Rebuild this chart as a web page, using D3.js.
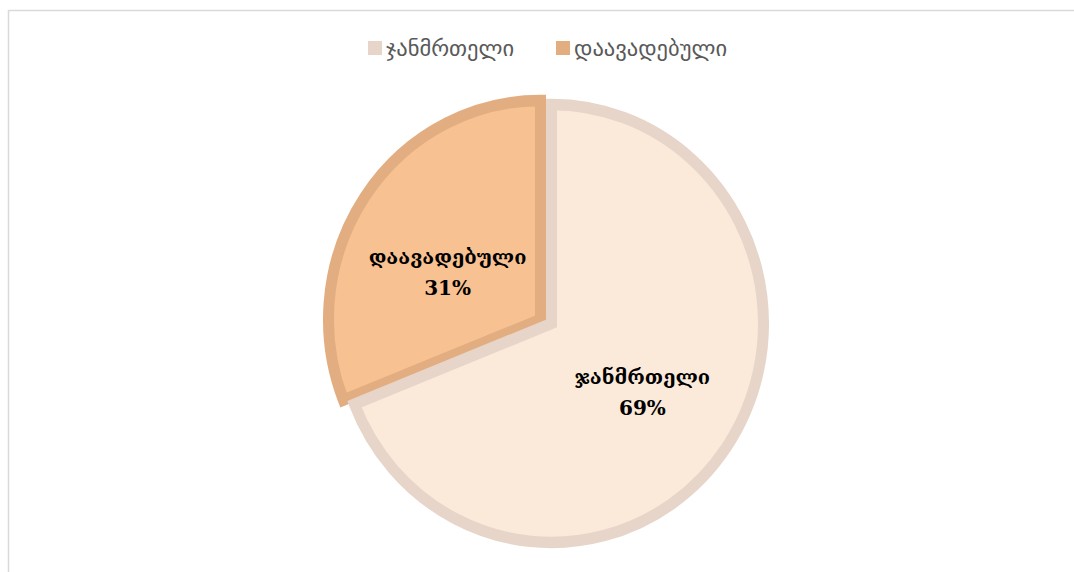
<!DOCTYPE html>
<html>
<head>
<meta charset="utf-8">
<script src="https://cdn.jsdelivr.net/npm/d3@7/dist/d3.min.js"></script>
<style>
  html, body { margin: 0; padding: 0; background: #ffffff; }
  svg { display: block; }
</style>
</head>
<body>
<svg id="chart" width="1074" height="572"></svg>
<script>
// Share of healthy vs. diseased
const categories = ["ჯანმრთელი", "დაავადებული"];
const shares = [69, 31];
const fillColors = ["#FBE9DA", "#F8C192"];
const strokeColors = ["#E6D5C8", "#E2AE81"];
const legendColors = ["#E6D5C8", "#E2AE80"];

const svg = d3.select("#chart");

// chart frame (partially visible)
svg.append("rect")
  .attr("x", 8.5).attr("y", 10.5)
  .attr("width", 1100).attr("height", 600)
  .attr("fill", "none")
  .attr("stroke", "#D9D9D9")
  .attr("stroke-width", 1.5);

// pie geometry
const cx = 551.5, cy = 323.5;
const rx = 212, ry = 219;
const strokeW = 11;

const pie = d3.pie().sort(null).value(d => d)(shares);
const arc = d3.arc().innerRadius(0).outerRadius(rx);

// exploded offset for the smaller slice
const offsets = [[0, 0], [-11, -4]];

const slices = svg.append("g");
// draw smaller slice first, larger on top
[1, 0].forEach(i => {
  const d = pie[i];
  slices.append("g")
    .attr("transform", `translate(${cx + offsets[i][0]},${cy + offsets[i][1]}) scale(1,${ry / rx})`)
    .append("path")
    .attr("d", arc(d))
    .attr("fill", fillColors[i])
    .attr("stroke", strokeColors[i])
    .attr("stroke-width", strokeW)
    .attr("stroke-linejoin", "miter")
    .attr("stroke-miterlimit", 2);
});

// data labels
const labelArc = d3.arc().innerRadius(rx * 0.53).outerRadius(rx * 0.53);
const labelNudge = [[-2, 0], [0, 15]];
const labels = svg.append("g")
  .attr("font-family", "'DejaVu Serif', serif")
  .attr("font-weight", "bold")
  .attr("font-size", 20)
  .attr("fill", "#000")
  .attr("text-anchor", "middle");

pie.forEach((d, i) => {
  const [x, y] = labelArc.centroid(d);
  const px = cx + offsets[i][0] + x + labelNudge[i][0];
  const py = cy + offsets[i][1] + y * ry / rx + labelNudge[i][1];
  const t = labels.append("text").attr("x", px).attr("y", py);
  t.append("tspan").attr("x", px).attr("dy", "-0.25em").text(categories[i]);
  t.append("tspan").attr("x", px).attr("dy", "1.55em").text(shares[i] + "%");
});

// legend
const legend = svg.append("g")
  .attr("font-family", "'DejaVu Sans', sans-serif")
  .attr("font-size", 22.5)
  .attr("fill", "#595959");
const legendX = [368, 556];
categories.forEach((c, i) => {
  legend.append("rect")
    .attr("x", legendX[i]).attr("y", 41)
    .attr("width", 14).attr("height", 14)
    .attr("fill", legendColors[i]);
  legend.append("text")
    .attr("x", legendX[i] + 18).attr("y", 56)
    .text(c);
});
</script>
</body>
</html>
